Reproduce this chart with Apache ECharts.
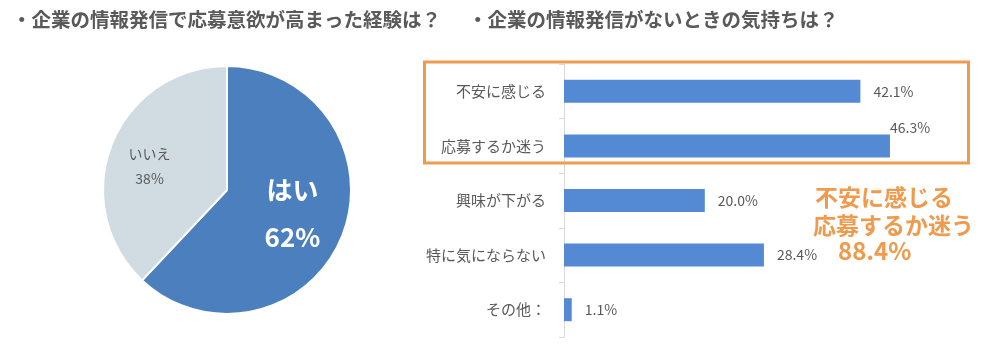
<!DOCTYPE html>
<html><head><meta charset="utf-8">
<script src="https://cdn.jsdelivr.net/npm/echarts@6/dist/echarts.min.js"></script>
<style>html,body{margin:0;padding:0;background:#fff}#c{width:990px;height:356px}</style>
</head><body><div id="c"></div>
<script>
const pieTitle = '・企業の情報発信で応募意欲が高まった経験は？';
const barTitle = '・企業の情報発信がないときの気持ちは？';
const pieNames = ['はい', 'いいえ'];
const pieValues = [62, 38];
const barCategories = ['不安に感じる', '応募するか迷う', '興味が下がる', '特に気にならない', 'その他：'];
const barValues = [42.1, 46.3, 20.0, 28.4, 1.1];
const calloutLines = ['不安に感じる', '応募するか迷う', '88.4%'];

const FONT = '"Noto Sans CJK JP", "Noto Sans", sans-serif';
const chart = echarts.init(document.getElementById('c'), null, {renderer: 'canvas'});

const pieData = pieNames.map((n, i) => ({
  name: n, value: pieValues[i],
  itemStyle: {color: i === 0 ? '#4b7fbe' : '#d0dce1'},
  label: i === 0 ? {
    color: '#fff', fontSize: 26, fontWeight: 'bold', lineHeight: 47, padding: [0, 0, 0, 10]
  } : {
    color: '#595959', fontSize: 14, lineHeight: 25, padding: [0, 34, 30, 0]
  }
}));

const barData = barValues.map((v, i) => i === 1 ? {value: v, label: {offset: [-13, -18]}} : v);

chart.setOption({
  animation: false,
  textStyle: {fontFamily: FONT},
  grid: {left: 564, right: 74, top: 64, bottom: 19},
  xAxis: {type: 'value', min: 0, max: 50, show: false},
  yAxis: {
    type: 'category', data: barCategories, inverse: true,
    axisLine: {lineStyle: {color: '#d9d9d9', width: 1}},
    axisTick: {show: true, length: 5, lineStyle: {color: '#d9d9d9'}},
    axisLabel: {color: '#595959', fontSize: 15, margin: 18, fontFamily: FONT}
  },
  series: [
    {
      type: 'pie', center: [227, 190], radius: 124, startAngle: 90, clockwise: true,
      data: pieData,
      itemStyle: {borderColor: '#fff', borderWidth: 2},
      label: {show: true, position: 'inside', formatter: p => p.name + '\n' + p.value + '%', fontFamily: FONT},
      labelLine: {show: false},
      emphasis: {disabled: true}
    },
    {
      type: 'bar', data: barData, barWidth: 23,
      itemStyle: {color: '#548ad3'},
      label: {show: true, position: 'right', distance: 13, color: '#595959', fontSize: 14,
        formatter: p => p.value.toFixed(1) + '%', fontFamily: FONT}
    }
  ],
  graphic: [
    {type: 'text', left: 12, top: 10, style: {text: pieTitle, font: 'bold 19.5px ' + FONT, fill: '#595959'}},
    {type: 'text', left: 468, top: 10, style: {text: barTitle, font: 'bold 19.5px ' + FONT, fill: '#595959'}},
    {type: 'rect', shape: {x: 424.5, y: 62, width: 544, height: 101}, style: {fill: 'none', stroke: '#ee9b4f', lineWidth: 3}, z: 10},
    {type: 'text', x: 815, y: 197, style: {text: calloutLines[0], font: 'bold 23px ' + FONT, fill: '#ef9a4c', verticalAlign: 'middle'}},
    {type: 'text', x: 813, y: 225, style: {text: calloutLines[1], font: 'bold 23px ' + FONT, fill: '#ef9a4c', verticalAlign: 'middle'}},
    {type: 'text', x: 838, y: 251, style: {text: calloutLines[2], font: 'bold 24px ' + FONT, fill: '#ef9a4c', verticalAlign: 'middle'}}
  ]
});
</script></body></html>
